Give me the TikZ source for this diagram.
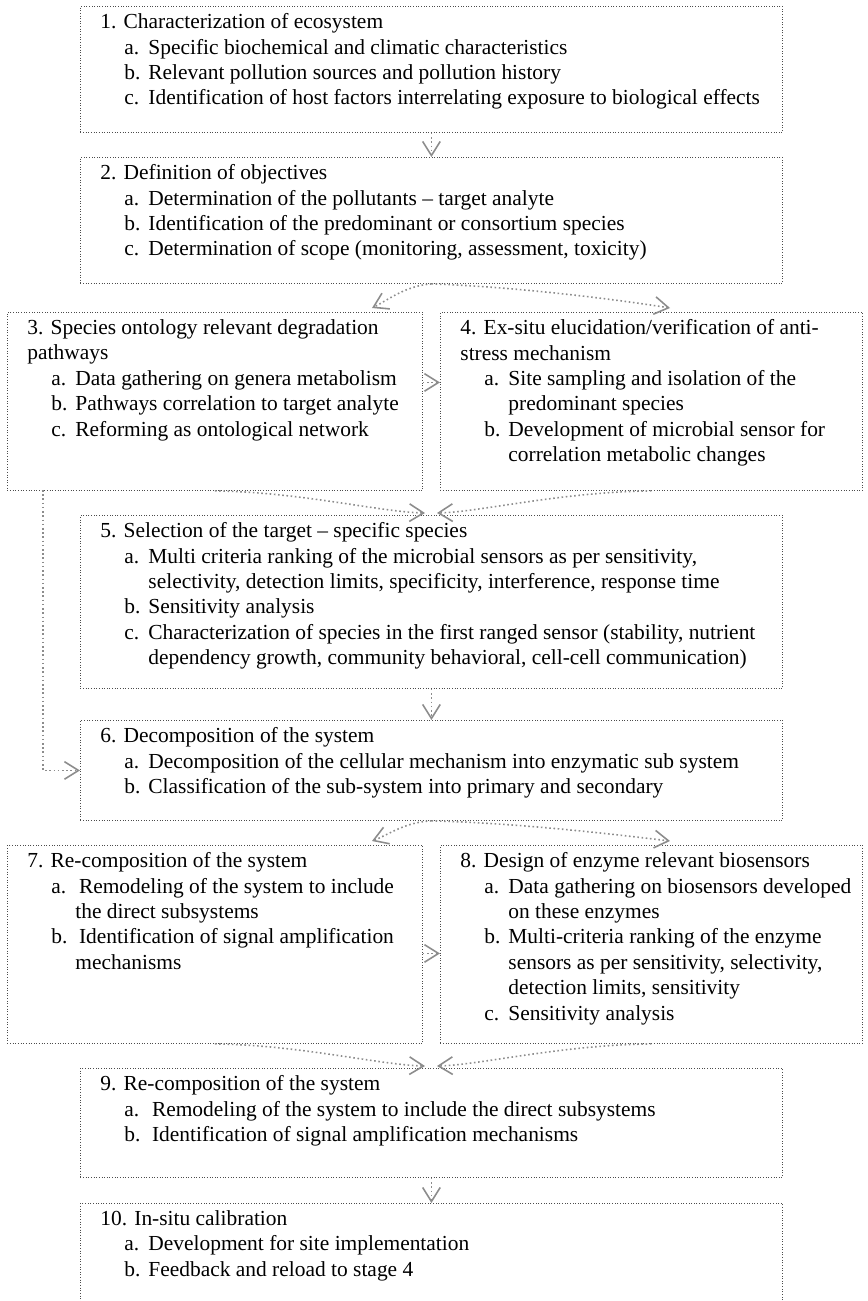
\documentclass[tikz,border=0pt]{standalone}
\usepackage{fontspec}
\setmainfont{Liberation Serif}
\usetikzlibrary{arrows.meta}

\newdimen\px \px=0.02cm

\newcommand\stagetext[3]{%
  \parbox[t][#2\px][t]{#1\px}{\fontsize{12.2}{14.5}\selectfont
    \raggedright\leftskip=20\px\vspace*{7\px}#3}}
\newcommand\stageitem[2]{\par\hangindent=48\px\hangafter=1
  \noindent\hspace*{24\px}\makebox[24\px][l]{#1}#2}

\begin{document}
\begin{tikzpicture}[
  x=0.02cm,y=-0.02cm,
  stage/.style={draw=black!70,densely dotted,line width=0.5pt,anchor=north west,inner sep=0pt},
  flow/.style={draw=black!45,line width=0.9pt,dash pattern=on 0.9pt off 1.5pt,
    -{Straight Barb[length=8pt,width=10pt,line width=0.9pt]}}
]
  \clip (0,0) rectangle (867,1301);

  \node[stage] (s1) at (80,6) {\stagetext{702}{126}{%
    1. Characterization of ecosystem
    \stageitem{a.}{Specific biochemical and climatic characteristics}
    \stageitem{b.}{Relevant pollution sources and pollution history}
    \stageitem{c.}{Identification of host factors interrelating exposure to biological effects}}};

  \node[stage] (s2) at (80,157) {\stagetext{702}{126}{%
    2. Definition of objectives
    \stageitem{a.}{Determination of the pollutants -- target analyte}
    \stageitem{b.}{Identification of the predominant or consortium species}
    \stageitem{c.}{Determination of scope (monitoring, assessment, toxicity)}}};

  \node[stage] (s3) at (7,312) {\stagetext{415}{178}{%
    3. Species ontology relevant degradation\newline pathways
    \stageitem{a.}{Data gathering on genera metabolism}
    \stageitem{b.}{Pathways correlation to target analyte}
    \stageitem{c.}{Reforming as ontological network}}};

  \node[stage] (s4) at (440,312) {\stagetext{422}{178}{%
    4. Ex-situ elucidation/verification of anti-\newline stress mechanism
    \stageitem{a.}{Site sampling and isolation of the\newline predominant species}
    \stageitem{b.}{Development of microbial sensor for\newline correlation metabolic changes}}};

  \node[stage] (s5) at (80,515) {\stagetext{702}{173}{%
    5. Selection of the target -- specific species
    \stageitem{a.}{Multi criteria ranking of the microbial sensors as per sensitivity,\newline selectivity, detection limits, specificity, interference, response time}
    \stageitem{b.}{Sensitivity analysis}
    \stageitem{c.}{Characterization of species in the first ranged sensor (stability, nutrient\newline dependency growth, community behavioral, cell-cell communication)}}};

  \node[stage] (s6) at (80,720) {\stagetext{702}{100}{%
    6. Decomposition of the system
    \stageitem{a.}{Decomposition of the cellular mechanism into enzymatic sub system}
    \stageitem{b.}{Classification of the sub-system into primary and secondary}}};

  \node[stage] (s7) at (7,845) {\stagetext{415}{198}{%
    7. Re-composition of the system
    \stageitem{a.}{\,Remodeling of the system to include\newline the direct subsystems}
    \stageitem{b.}{\,Identification of signal amplification\newline mechanisms}}};

  \node[stage] (s8) at (440,845) {\stagetext{422}{198}{%
    8. Design of enzyme relevant biosensors
    \stageitem{a.}{Data gathering on biosensors developed\newline on these enzymes}
    \stageitem{b.}{Multi-criteria ranking of the enzyme\newline sensors as per sensitivity, selectivity,\newline detection limits, sensitivity}
    \stageitem{c.}{Sensitivity analysis}}};

  \node[stage] (s9) at (80,1068) {\stagetext{702}{109}{%
    9. Re-composition of the system
    \stageitem{a.}{\,Remodeling of the system to include the direct subsystems}
    \stageitem{b.}{\,Identification of signal amplification mechanisms}}};

  \node[stage] (s10) at (80,1203) {\stagetext{702}{130}{%
    10. In-situ calibration
    \stageitem{a.}{Development for site implementation}
    \stageitem{b.}{Feedback and reload to stage 4}}};

  % free ends of the curved connectors
  \coordinate (t3) at (372,308);
  \coordinate (t4) at (670,308);
  \coordinate (m3) at (425,513);
  \coordinate (m4) at (437,513);
  \coordinate (t7) at (372,841);
  \coordinate (t8) at (670,841);
  \coordinate (m7) at (425,1066);
  \coordinate (m8) at (437,1066);
  \coordinate (c3) at (43,490);

  \draw[flow] (s1.south) -- (s2.north);
  \draw[flow] (s2.south) .. controls (405,286) and (388,300) .. (t3);
  \draw[flow] (s2.south) .. controls (520,287) and (620,300) .. (t4);
  \draw[flow] ([yshift=19\px]s3.east) -- ([yshift=19\px]s4.west);
  \draw[flow] (s3.south) .. controls (300,492) and (380,512) .. (m3);
  \draw[flow] (s4.south) .. controls (560,492) and (480,512) .. (m4);
  \draw[flow] (c3) |- (s6.west);
  \draw[flow] (s5.south) -- (s6.north);
  \draw[flow] (s6.south) .. controls (405,822) and (388,835) .. (t7);
  \draw[flow] (s6.south) .. controls (520,823) and (620,835) .. (t8);
  \draw[flow] ([yshift=-9\px]s7.east) -- ([yshift=-9\px]s8.west);
  \draw[flow] (s7.south) .. controls (300,1045) and (380,1065) .. (m7);
  \draw[flow] (s8.south) .. controls (560,1045) and (480,1065) .. (m8);
  \draw[flow] (s9.south) -- (s10.north);
\end{tikzpicture}
\end{document}
